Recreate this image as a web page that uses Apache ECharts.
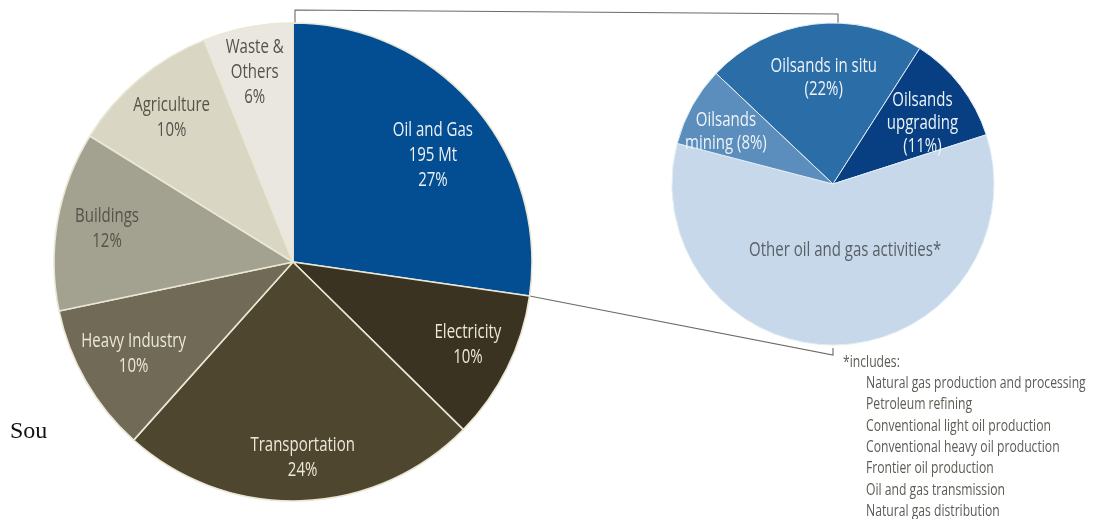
<!DOCTYPE html>
<html><head><meta charset="utf-8">
<script src="https://cdn.jsdelivr.net/npm/echarts@6/dist/echarts.min.js"></script>
<style>html,body{margin:0;padding:0;background:#fff}#c{width:1094px;height:519px}</style>
</head><body><div id="c"></div>
<script>
// ---- data ----
const sectors = ['Oil and Gas', 'Electricity', 'Transportation', 'Heavy Industry', 'Buildings', 'Agriculture', 'Waste & Others'];
const sectorShares = [27, 10, 24, 10, 12, 10, 6];
const sectorLabels = ['Oil and Gas\n195 Mt\n27%', 'Electricity\n10%', 'Transportation\n24%', 'Heavy Industry\n10%', 'Buildings\n12%', 'Agriculture\n10%', 'Waste &\nOthers\n6%'];
const oilGasParts = ['Oilsands in situ', 'Oilsands upgrading', 'Other oil and gas activities*', 'Oilsands mining'];
const oilGasShares = [22, 11, 59, 8];
const oilGasLabels = ['Oilsands in situ\n(22%)', 'Oilsands\nupgrading\n(11%)', 'Other oil and gas activities*', 'Oilsands\nmining (8%)'];
const footnoteTitle = '*includes:';
const footnoteLines = ['Natural gas production and processing', 'Petroleum refining', 'Conventional light oil production', 'Conventional heavy oil production', 'Frontier oil production', 'Oil and gas transmission', 'Natural gas distribution'];

// ---- styles / layout ----
const sectorColors = ['#034d93', '#3a3321', '#4f4630', '#706a57', '#a3a190', '#d9d7c3', '#e9e7df'];
const sectorTextColors = ['#eef0f4', '#ece8d8', '#ece8d8', '#ece8d8', '#55524a', '#55524a', '#55524a'];
const sectorLabelRadius = [0.737, 0.81, 0.82, 0.77, 0.79, 0.79, 0.81];
const sectorLabelShift = [3.5, -1, -1, 0, 0, 0, -0.5];
const oilGasColors = ['#2b6da7', '#073f82', '#c6d8e9', '#5b8ebd'];
const oilGasTextColors = ['#eef3f8', '#eef3f8', '#5a5f66', '#eef3f8'];
const oilGasLabelRadius = [0.66, 0.67, 0.42, 0.74];
const oilGasLabelShift = [2, 3.6, -8.7, -3];
const FONT = '"Open Sans", "Noto Sans", sans-serif';
const SQUEEZE = 0.75;

const C1 = [293, 262], R1 = 239;
const C2 = [833, 184], R2 = 161;
const START2 = 136.6;

function pieData(names, vals, colors) {
  return names.map((n, i) => ({ name: n, value: vals[i], itemStyle: { color: colors[i] } }));
}

const chart = echarts.init(document.getElementById('c'), null, { renderer: 'canvas' });

chart.setOption({
  animation: false,
  backgroundColor: '#ffffff',
  series: [
    {
      type: 'pie', center: C1, radius: [0, R1], startAngle: 90, clockwise: true, silent: true,
      itemStyle: { borderColor: '#ebe7d5', borderWidth: 1.6 },
      label: { show: false }, labelLine: { show: false },
      data: pieData(sectors, sectorShares, sectorColors)
    },
    {
      type: 'pie', center: C2, radius: [0, R2], startAngle: START2, clockwise: true, silent: true,
      itemStyle: { borderColor: '#e4eef7', borderWidth: 1 },
      label: { show: false }, labelLine: { show: false },
      data: pieData(oilGasParts, oilGasShares, oilGasColors)
    }
  ]
});

// sector geometry from the library's own pie layout
function sectorGeom(seriesIndex, vals, center, radius, startDeg) {
  try {
    const data = chart.getModel().getSeriesByIndex(seriesIndex).getData();
    return vals.map((v, i) => data.getItemLayout(i));
  } catch (e) {
    const total = vals.reduce((a, b) => a + b, 0);
    let a = -startDeg * Math.PI / 180;
    return vals.map(v => {
      const s = a; a += v / total * Math.PI * 2;
      return { cx: center[0], cy: center[1], r: radius, startAngle: s, endAngle: a };
    });
  }
}
function sliceLabels(geom, texts, colors, fracs, shifts, fontSize, lineHeight) {
  return texts.map((t, i) => {
    const L = geom[i];
    const mid = (L.startAngle + L.endAngle) / 2 + shifts[i] * Math.PI / 180;
    const rr = L.r * fracs[i];
    return {
      type: 'text', z: 10, silent: true,
      x: L.cx + rr * Math.cos(mid), y: L.cy + rr * Math.sin(mid), scaleX: SQUEEZE,
      style: { text: t, fill: colors[i], font: fontSize + 'px ' + FONT, lineHeight: lineHeight, align: 'center', verticalAlign: 'middle' }
    };
  });
}

const g1 = sectorGeom(0, sectorShares, C1, R1, 90);
const g2 = sectorGeom(1, oilGasShares, C2, R2, START2);
const oilEnd = g1[0].endAngle;
const oilEdge = [g1[0].cx + g1[0].r * Math.cos(oilEnd), g1[0].cy + g1[0].r * Math.sin(oilEnd)];
const lineStyle = { stroke: '#6e6a60', lineWidth: 1.1, fill: null };

chart.setOption({
  graphic: [
    { type: 'polyline', z: 1, silent: true, shape: { points: [[C1[0] + 2, C1[1] - R1], [C1[0] + 2, 10], [C2[0] + 5, 14], [C2[0] + 5, C2[1] - R2 + 2]] }, style: lineStyle },
    { type: 'polyline', z: 1, silent: true, shape: { points: [oilEdge, [C2[0], 355], [C2[0], 348]] }, style: lineStyle },
    { type: 'text', x: 843, y: 362, scaleX: 0.77, silent: true, style: { text: footnoteTitle, font: '15.8px ' + FONT, fill: '#5e5b55', verticalAlign: 'middle' } },
    { type: 'text', x: 866, y: 373, scaleX: 0.77, silent: true, style: { text: footnoteLines.join('\n'), font: '15.8px ' + FONT, lineHeight: 21.3, fill: '#5e5b55', verticalAlign: 'top' } },
    { type: 'text', x: 10, y: 432, z: 0, silent: true, style: { text: 'Sou', font: '24px "Liberation Serif", serif', fill: '#111', verticalAlign: 'middle' } }
  ]
    .concat(sliceLabels(g1, sectorLabels, sectorTextColors, sectorLabelRadius, sectorLabelShift, 20, 25))
    .concat(sliceLabels(g2, oilGasLabels, oilGasTextColors, oilGasLabelRadius, oilGasLabelShift, 20, 23))
});
</script></body></html>
